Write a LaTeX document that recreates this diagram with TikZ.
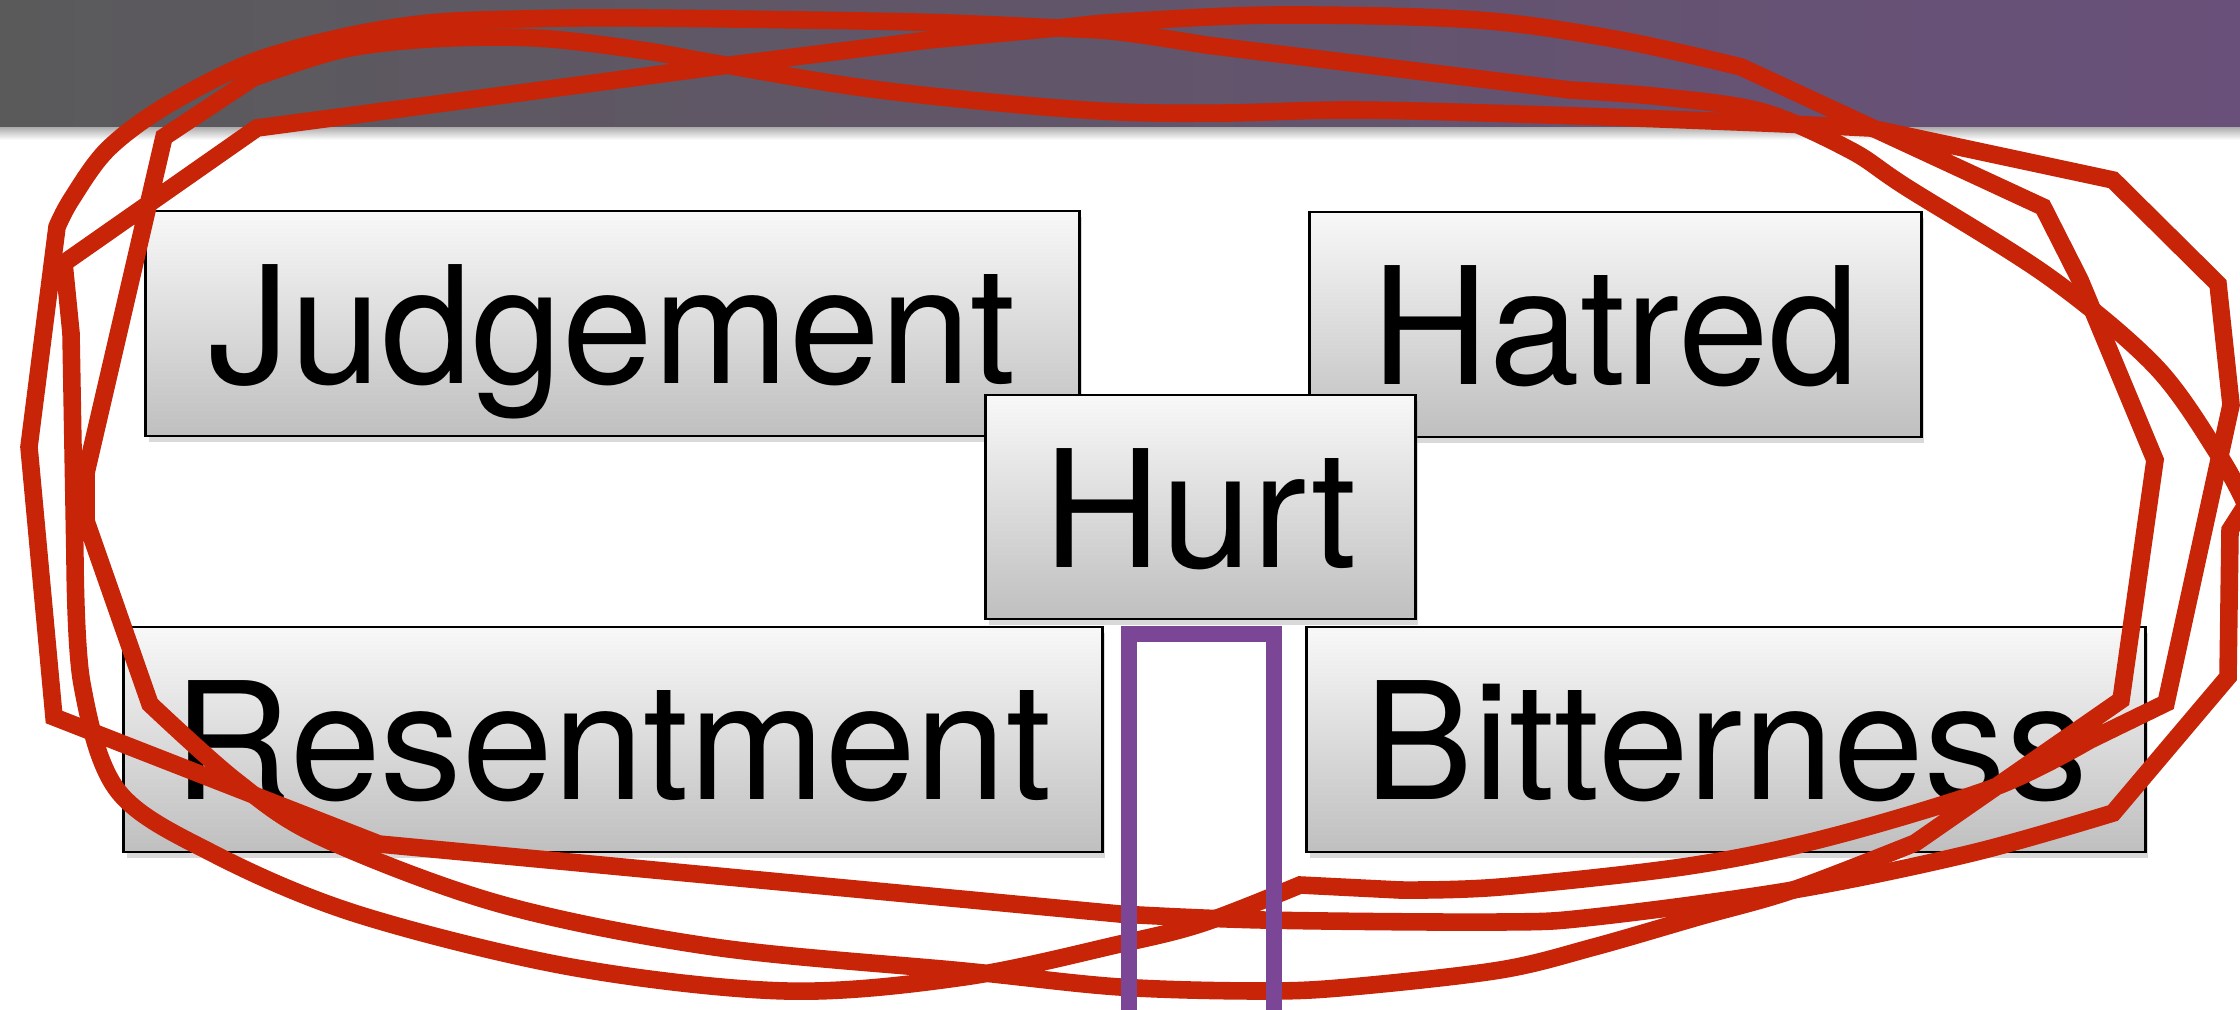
\documentclass[tikz,border=0pt]{standalone}
\usepackage{fontspec}
\setmainfont{TeX Gyre Heros}
\usetikzlibrary{shadows}
\definecolor{bandleft}{RGB}{90,90,91}
\definecolor{bandright}{RGB}{105,80,122}
\definecolor{boxtop}{RGB}{248,248,248}
\definecolor{boxbottom}{RGB}{191,191,191}
\definecolor{penred}{RGB}{199,36,8}
\definecolor{penpurple}{RGB}{123,70,150}
\begin{document}
\begin{tikzpicture}[x=0.01cm, y=-0.01cm,
    feeling/.style={draw=black, line width=0.8pt, top color=boxtop, bottom color=boxbottom,
      inner sep=0pt, minimum height=2.25cm, text height=1.2cm, text depth=0pt,
      font=\fontsize{46.4pt}{50pt}\selectfont,
      drop shadow={shadow xshift=0.03cm, shadow yshift=-0.06cm, opacity=0.3}},
    pen/.style={draw=penred, line width=5pt, miter limit=4}]
    \useasboundingbox (0,0) rectangle (2240,1009);
    \clip (0,0) rectangle (2240,1009);

    % Draw the title band
    \shade[top color=black!35, bottom color=white] (0,126) rectangle (2240,140);
    \shade[left color=bandleft, right color=bandright] (0,0) rectangle (2240,126);

    % Draw the five feelings
    \node[feeling, minimum width=9.33cm] (judgement) at (612.5,323.5) {Judgement};
    \node[feeling, minimum width=6.11cm] (hatred) at (1615.5,324.5) {Hatred};
    \node[feeling, minimum width=4.29cm, minimum height=2.24cm] (hurt) at (1200.5,507) {Hurt};
    \node[feeling, minimum width=9.78cm] (resentment) at (613,739.5) {Resentment};
    \node[feeling, minimum width=8.38cm] (bitterness) at (1726,739.5) {Bitterness};

    % Draw the red loop, first round
    \draw[pen] (86,473) -- (164,137) -- (253,78)
      -- plot[smooth, tension=0.55] coordinates {(253,78) (340,50) (430,39) (536,38) (640,50) (714,63) (857,87) (1000,103) (1120,112) (1227,113) (1356,110) (1549,115) (1763,123) (1870,128)}
      -- (2113,180) -- (2218,284) -- (2231,405) -- (2166,703) -- (2090,740)
      -- plot[smooth, tension=0.55] coordinates {(2090,740) (1995,787) (1830,837) (1689,866) (1500,887) (1400,890)}
      -- (1300,885)
      -- plot[smooth, tension=0.55] coordinates {(1300,885) (1203,923) (1120,944) (964,977) (786,991) (571,967) (357,914) (214,854) (118,791) (82,684) (75,560)}
      -- (71,333) -- (64,263) -- (257,128) -- (714,67) -- (929,40)
      -- plot[smooth, tension=0.55] coordinates {(929,40) (1057,28) (1120,22) (1277,15) (1477,20) (1620,40) (1741,67)}
      -- (2043,207) -- (2080,280) -- (2155,460) -- (2121,700) -- (1915,843)
      -- plot[smooth, tension=0.55] coordinates {(1915,843) (1793,890) (1698,917) (1594,947) (1500,970) (1350,987) (1263,991) (1120,987) (964,971) (714,947) (500,904) (321,837) (236,781) (150,704)}
      -- (86,521) -- cycle;

    % Draw the red loop, second round
    \draw[pen] (2228,677) -- (2113,813)
      -- plot[smooth, tension=0.55] coordinates {(2113,813) (1972,853) (1793,890) (1594,917) (1500,922) (1263,920) (1120,914)}
      -- (379,844) -- (54,717) -- (29,447) -- (57,227)
      -- plot[smooth, tension=0.55] coordinates {(57,227) (71,200) (107,150) (164,107) (250,63) (343,37) (429,23) (520,19) (643,18) (914,22) (1057,28) (1120,32) (1206,45)}
      -- (1570,90)
      -- plot[smooth, tension=0.55] coordinates {(1570,90) (1663,97) (1763,112) (1850,150) (1906,187) (2049,277) (2156,367) (2220,457) (2246,505)}
      -- (2230,530) -- cycle;

    % Draw the purple frame below Hurt
    \draw[penpurple, line width=4.55pt] (1129,1040) -- (1129,633.5) -- (1274,633.5) -- (1274,1040);
\end{tikzpicture}
\end{document}
